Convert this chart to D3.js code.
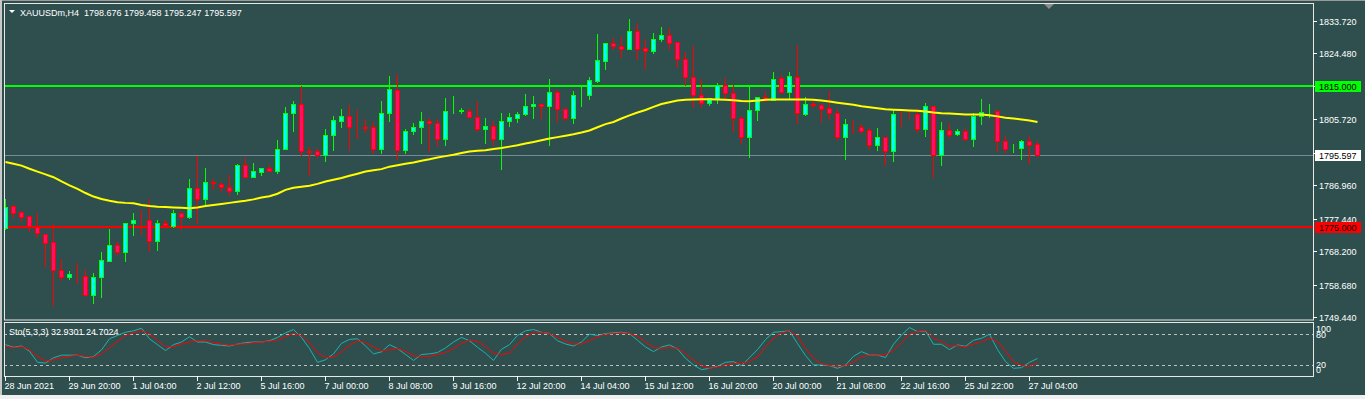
<!DOCTYPE html>
<html>
<head>
<meta charset="utf-8">
<script src="https://d3js.org/d3.v7.min.js"></script>
<style>
  html, body { margin: 0; padding: 0; background: #2f4f4f; overflow: hidden; }
  svg { display: block; font-family: "Liberation Sans", Arial, sans-serif; }
</style>
</head>
<body>
<div id="chart"></div>
<script>
// XAUUSDm H4 bars (oldest first)
const open = [
  1774.7, 1781.0, 1779.3, 1778.1, 1775.1, 1773.1, 1770.7, 1762.7, 1760.9, 1761.5,
  1761.1, 1755.6, 1760.7, 1765.5, 1769.8, 1768.0, 1776.1, 1777.0, 1777.0, 1771.0,
  1776.1, 1775.3, 1779.0, 1778.0, 1786.0, 1782.9, 1787.7, 1787.2, 1786.3, 1785.4,
  1792.6, 1789.4, 1790.8, 1791.8, 1791.1, 1797.3, 1807.4, 1810.0, 1796.6, 1796.6,
  1795.6, 1801.1, 1805.3, 1806.6, 1803.5, 1803.4, 1803.4, 1797.3, 1807.4, 1814.0,
  1796.8, 1802.2, 1803.6, 1805.1, 1804.5, 1800.2, 1807.9, 1808.0, 1807.9, 1806.4,
  1802.8, 1803.9, 1800.0, 1805.1, 1805.9, 1807.2, 1809.5, 1810.0, 1809.5, 1813.4,
  1808.5, 1805.9, 1812.5, 1812.5, 1816.7, 1822.3, 1827.3, 1826.5, 1825.6, 1830.7,
  1826.0, 1825.2, 1828.4, 1829.6, 1827.7, 1822.7, 1817.8, 1812.7, 1810.4, 1811.4,
  1815.5, 1813.1, 1805.9, 1800.5, 1808.3, 1812.1, 1811.2, 1817.4, 1813.4, 1817.6,
  1807.2, 1809.9, 1809.6, 1808.9, 1807.4, 1800.5, 1803.8, 1803.6, 1802.6, 1798.5,
  1800.5, 1796.6, 1807.2, 1807.2, 1807.2, 1803.0, 1809.4, 1795.6, 1802.6, 1801.5,
  1802.2, 1800.2, 1806.6, 1807.7, 1807.9, 1799.4, 1797.4, 1797.5, 1799.4, 1798.676
];
const high = [
  1782.9, 1781.3, 1779.7, 1778.1, 1778.9, 1773.1, 1775.9, 1766.0, 1762.4, 1764.7,
  1762.8, 1761.9, 1767.9, 1774.4, 1770.8, 1776.1, 1778.9, 1779.9, 1782.9, 1777.0,
  1777.0, 1779.9, 1779.0, 1788.6, 1795.2, 1791.8, 1788.6, 1787.8, 1789.7, 1793.0,
  1794.8, 1793.2, 1791.7, 1792.6, 1799.8, 1809.1, 1810.8, 1815.1, 1797.7, 1797.3,
  1802.8, 1806.6, 1808.5, 1809.6, 1808.3, 1805.7, 1805.0, 1810.8, 1818.0, 1818.6,
  1802.8, 1804.5, 1807.7, 1805.9, 1805.7, 1811.7, 1812.3, 1808.9, 1808.5, 1810.8,
  1806.0, 1805.1, 1807.4, 1807.4, 1807.7, 1812.9, 1812.3, 1810.0, 1817.0, 1814.0,
  1808.9, 1813.6, 1815.0, 1817.8, 1829.9, 1827.3, 1828.8, 1829.0, 1834.1, 1833.0,
  1828.4, 1830.1, 1831.8, 1831.6, 1827.7, 1824.8, 1826.5, 1817.0, 1811.7, 1816.1,
  1817.4, 1815.3, 1806.6, 1814.8, 1812.1, 1813.4, 1819.1, 1818.2, 1819.1, 1826.8,
  1811.9, 1811.0, 1810.0, 1813.6, 1808.7, 1805.8, 1805.5, 1804.3, 1803.2, 1803.2,
  1800.5, 1808.3, 1808.3, 1808.3, 1808.5, 1810.4, 1809.4, 1804.9, 1804.5, 1802.8,
  1802.8, 1807.4, 1811.5, 1810.0, 1808.3, 1800.9, 1798.6, 1799.8, 1800.9, 1799.458
];
const low = [
  1774.5, 1777.8, 1776.8, 1774.0, 1772.1, 1763.9, 1752.9, 1760.0, 1760.3, 1759.0,
  1755.6, 1753.3, 1755.0, 1765.5, 1767.5, 1765.5, 1772.9, 1773.0, 1768.3, 1768.5,
  1775.0, 1775.0, 1774.4, 1777.6, 1776.1, 1781.3, 1785.9, 1785.4, 1784.1, 1784.4,
  1789.2, 1789.4, 1789.8, 1790.9, 1790.5, 1797.3, 1802.2, 1795.6, 1789.9, 1794.9,
  1793.9, 1796.9, 1803.4, 1796.8, 1800.3, 1802.1, 1796.2, 1796.2, 1805.3, 1794.3,
  1796.2, 1801.5, 1799.0, 1796.6, 1798.1, 1798.5, 1807.6, 1807.4, 1806.2, 1802.4,
  1798.8, 1798.3, 1791.6, 1803.7, 1804.9, 1806.8, 1805.9, 1805.9, 1798.5, 1805.3,
  1805.5, 1804.5, 1809.5, 1811.4, 1816.3, 1820.1, 1825.6, 1823.5, 1825.6, 1822.7,
  1820.1, 1824.6, 1828.0, 1825.6, 1820.6, 1815.3, 1809.3, 1809.1, 1809.8, 1810.4,
  1811.4, 1802.4, 1798.8, 1794.9, 1805.5, 1810.8, 1811.2, 1813.2, 1811.5, 1804.5,
  1807.0, 1809.1, 1804.9, 1805.8, 1799.8, 1794.5, 1801.9, 1801.9, 1797.1, 1796.9,
  1792.8, 1793.9, 1803.9, 1806.0, 1802.0, 1800.9, 1789.3, 1792.8, 1800.7, 1801.1,
  1799.8, 1798.1, 1804.3, 1806.2, 1796.6, 1796.4, 1796.4, 1794.5, 1793.3, 1795.247
];
const close = [
  1780.8, 1779.1, 1778.0, 1775.3, 1773.2, 1770.4, 1762.8, 1760.9, 1761.6, 1761.4,
  1755.6, 1760.7, 1765.6, 1769.8, 1768.0, 1776.1, 1777.0, 1776.9, 1771.0, 1776.1,
  1775.5, 1779.1, 1778.0, 1786.0, 1782.9, 1787.7, 1787.5, 1786.3, 1785.4, 1792.6,
  1789.4, 1790.9, 1791.7, 1791.1, 1797.3, 1807.4, 1810.0, 1796.6, 1796.5, 1795.6,
  1801.1, 1805.5, 1806.6, 1803.4, 1803.4, 1803.3, 1797.3, 1807.4, 1814.2, 1796.8,
  1802.2, 1803.6, 1805.1, 1804.5, 1800.2, 1807.9, 1808.0, 1808.2, 1806.4, 1802.8,
  1803.9, 1800.0, 1805.1, 1806.2, 1807.2, 1809.5, 1810.0, 1809.5, 1813.4, 1808.5,
  1805.9, 1812.5, 1812.6, 1816.9, 1822.5, 1827.3, 1826.5, 1825.6, 1830.7, 1825.8,
  1825.2, 1828.4, 1829.6, 1827.3, 1822.7, 1817.8, 1812.7, 1810.2, 1811.7, 1815.5,
  1813.1, 1805.9, 1800.5, 1808.3, 1812.1, 1811.2, 1817.2, 1813.4, 1818.0, 1807.4,
  1810.0, 1809.8, 1808.7, 1807.4, 1800.5, 1804.3, 1803.7, 1802.4, 1798.5, 1800.5,
  1796.6, 1807.2, 1807.1, 1807.1, 1803.0, 1809.4, 1795.6, 1802.6, 1801.3, 1802.2,
  1800.2, 1806.6, 1807.7, 1807.8, 1799.4, 1797.3, 1797.5, 1799.4, 1798.5, 1795.597
];
// yellow moving average, one value per bar
const ma = [
  1793.5, 1793.0, 1792.5, 1791.6, 1790.8, 1790.0, 1789.2, 1788.0, 1786.9, 1785.9,
  1784.7, 1783.7, 1783.0, 1782.5, 1782.1, 1781.9, 1781.8, 1781.3, 1781.0, 1780.8,
  1780.7, 1780.6, 1780.5, 1780.4, 1780.6, 1781.0, 1781.3, 1781.6, 1781.9, 1782.2,
  1782.5, 1782.9, 1783.4, 1783.8, 1784.5, 1785.6, 1786.2, 1786.5, 1786.8, 1787.3,
  1788.0, 1788.5, 1789.0, 1789.6, 1790.2, 1790.8, 1791.2, 1791.5, 1792.2, 1792.6,
  1793.0, 1793.4, 1793.9, 1794.3, 1794.8, 1795.2, 1795.6, 1796.1, 1796.5, 1796.7,
  1796.9, 1797.2, 1797.5, 1797.9, 1798.3, 1798.8, 1799.2, 1799.7, 1800.2, 1800.6,
  1801.0, 1801.4, 1801.9, 1802.5, 1803.4, 1804.3, 1804.9, 1805.9, 1806.8, 1807.6,
  1808.3, 1809.2, 1810.0, 1810.5, 1811.0, 1811.2, 1811.3, 1811.4, 1811.4, 1811.3,
  1811.2, 1811.1, 1810.9, 1810.8, 1811.0, 1811.2, 1811.3, 1811.3, 1811.3, 1811.3,
  1811.3, 1811.2, 1811.0, 1810.7, 1810.4, 1810.1, 1809.8, 1809.4, 1809.1, 1808.8,
  1808.5, 1808.4, 1808.3, 1808.2, 1808.1, 1807.9, 1807.6, 1807.4, 1807.3, 1807.2,
  1807.0, 1807.0, 1807.0, 1806.8, 1806.5, 1806.1, 1805.9, 1805.6, 1805.3, 1804.9
];
// Stochastic(5,3,3): main and signal
const stoMain = [
  60.0, 54.8, 57.4, 47.1, 25.2, 23.9, 34.2, 39.4, 39.4, 39.4,
  34.2, 36.8, 49.7, 71.6, 78.1, 84.5, 87.1, 92.3, 71.6, 60.0,
  48.4, 60.0, 65.2, 75.5, 65.2, 65.2, 60.0, 58.7, 57.4, 61.3,
  63.9, 65.2, 65.2, 67.7, 74.2, 83.2, 89.7, 74.2, 52.3, 25.2,
  30.3, 41.9, 62.6, 70.3, 71.6, 57.4, 41.9, 45.8, 60.0, 52.3,
  40.7, 29.0, 40.7, 41.9, 44.5, 53.6, 65.2, 74.2, 67.7, 54.8,
  43.2, 29.0, 51.0, 60.0, 78.1, 87.1, 89.7, 84.5, 81.9, 67.7,
  61.3, 57.4, 65.2, 80.6, 78.1, 81.8, 83.1, 84.4, 81.8, 68.6,
  55.5, 46.3, 55.5, 59.5, 51.6, 33.2, 20.1, 10.9, 13.5, 17.5,
  25.3, 26.7, 18.8, 34.5, 50.3, 70.0, 84.4, 85.7, 87.0, 62.1,
  38.5, 20.1, 20.1, 18.8, 13.5, 20.1, 37.2, 46.3, 39.8, 39.8,
  34.5, 60.8, 79.1, 93.6, 85.7, 87.0, 60.8, 60.8, 50.3, 59.5,
  56.8, 68.6, 72.6, 80.5, 50.3, 26.7, 13.5, 14.8, 25.3, 32.9301
];
const stoSignal = [
  57.4, 53.6, 56.1, 49.7, 36.8, 27.8, 30.3, 34.2, 36.8, 39.4,
  36.8, 35.5, 42.0, 53.6, 66.5, 78.1, 83.2, 87.1, 80.6, 67.7,
  56.1, 56.1, 61.3, 65.2, 67.7, 67.7, 64.0, 61.3, 58.7, 61.3,
  61.3, 63.9, 65.2, 66.5, 69.0, 75.5, 81.9, 78.1, 63.9, 44.5,
  34.2, 35.5, 45.8, 58.7, 67.7, 64.5, 54.8, 48.4, 49.7, 52.3,
  47.1, 38.1, 36.8, 36.8, 40.7, 44.5, 52.3, 62.6, 69.0, 66.5,
  56.1, 43.2, 40.7, 43.2, 61.3, 75.5, 84.5, 84.5, 81.9, 74.2,
  66.5, 61.3, 61.3, 67.7, 75.5, 80.5, 81.8, 83.1, 81.8, 76.5,
  66.0, 54.2, 52.9, 54.2, 52.9, 42.4, 29.3, 18.8, 13.5, 16.2,
  20.1, 22.7, 24.0, 26.7, 35.8, 55.5, 72.6, 83.1, 87.0, 76.5,
  52.9, 33.2, 22.7, 18.8, 17.5, 18.8, 26.7, 35.8, 39.8, 39.8,
  39.8, 49.0, 63.4, 80.5, 85.7, 88.3, 72.6, 66.0, 56.8, 58.1,
  55.5, 60.8, 66.0, 72.6, 66.0, 47.7, 26.7, 18.8, 17.5, 24.7024
];
// time labels every 8 bars
const timeLabels = [
  "28 Jun 2021", "29 Jun 20:00", "1 Jul 04:00", "2 Jul 12:00", "5 Jul 16:00",
  "7 Jul 00:00", "8 Jul 08:00", "9 Jul 16:00", "12 Jul 20:00", "14 Jul 04:00",
  "15 Jul 12:00", "16 Jul 20:00", "20 Jul 00:00", "21 Jul 08:00", "22 Jul 16:00",
  "25 Jul 22:00", "27 Jul 04:00"
];
const priceTicks = [1833.72, 1824.48, 1815.24, 1805.72, 1796.2, 1786.96, 1777.44, 1768.2, 1758.68, 1749.44];
const stoLevels = [100, 80, 20, 0];
const resistance = 1815.0;
const support = 1775.0;
const bid = 1795.597;

const width = 1365, height = 399;
const left = 4, right = 1313;
const mainTop = 4, mainBottom = 320, subTop = 322, subBottom = 376;
const txt = "#ffffff";

const svg = d3.select('#chart')
    .append('svg')
    .attr('width', width)
    .attr('height', height);

svg.append('rect').attr('width', width).attr('height', height).attr('fill', '#2f4f4f');
// window edges
svg.append('rect').attr('x', 0).attr('y', 0).attr('width', width).attr('height', 1).attr('fill', '#9a9a9a');
svg.append('rect').attr('x', 0).attr('y', 0).attr('width', 2).attr('height', height).attr('fill', '#c8c8c8');
svg.append('rect').attr('x', 0).attr('y', 395).attr('width', width).attr('height', 4).attr('fill', '#f0f0f0');

const x = d3.scaleLinear().domain([0, open.length - 1]).range([5.5, 1037.5]);
const y = d3.scaleLinear().domain([1748.59, 1838.46]).range([mainBottom, mainTop]);
const ys = d3.scaleLinear().domain([0, 100]).range([375.2, 324.3]);
const snap = v => Math.round(v) + 0.5;

const defs = svg.append('defs');
defs.append('clipPath').attr('id', 'clipMain').append('rect')
    .attr('x', left + 1).attr('y', mainTop + 1).attr('width', right - left - 1).attr('height', mainBottom - mainTop - 1);
defs.append('clipPath').attr('id', 'clipSub').append('rect')
    .attr('x', left + 1).attr('y', subTop + 1).attr('width', right - left - 1).attr('height', subBottom - subTop - 1);

// ---------- main window ----------
const main = svg.append('g').attr('clip-path', 'url(#clipMain)');

main.append('line')
    .attr('x1', left).attr('x2', right)
    .attr('y1', snap(y(bid))).attr('y2', snap(y(bid)))
    .attr('stroke', '#778899').attr('stroke-width', 1);

[[resistance, '#00ff00'], [support, '#ff0000']].forEach(([v, c]) => {
    main.append('line')
        .attr('x1', left).attr('x2', right)
        .attr('y1', Math.round(y(v))).attr('y2', Math.round(y(v)))
        .attr('stroke', c).attr('stroke-width', 2);
});

const bars = d3.range(open.length).map(i => ({ i, o: open[i], h: high[i], l: low[i], c: close[i] }));

const candle = main.selectAll('.candle')
    .data(bars)
    .enter().append('g')
    .attr('class', 'candle');

candle.append('line')
    .attr('x1', d => x(d.i)).attr('x2', d => x(d.i))
    .attr('y1', d => Math.round(y(d.h))).attr('y2', d => Math.round(y(d.l)) + 1)
    .attr('stroke', d => d.c >= d.o ? '#00ff00' : '#ff0000')
    .attr('stroke-width', 1);

candle.append('rect')
    .attr('x', d => x(d.i) - 2)
    .attr('y', d => snap(y(Math.max(d.o, d.c))))
    .attr('width', 4)
    .attr('height', d => Math.max(0, snap(y(Math.min(d.o, d.c))) - snap(y(Math.max(d.o, d.c)))))
    .attr('fill', d => d.c >= d.o ? '#00ffff' : '#ff0f6c')
    .attr('stroke', d => d.c >= d.o ? '#00ff00' : '#ff0000')
    .attr('stroke-width', 1);

main.append('path')
    .datum(ma)
    .attr('fill', 'none')
    .attr('stroke', '#ffff00')
    .attr('stroke-width', 2)
    .attr('d', d3.line().x((d, i) => x(i)).y(d => y(d)));

// frame
svg.append('rect')
    .attr('x', left + 0.5).attr('y', mainTop - 0.5)
    .attr('width', right - left).attr('height', mainBottom - mainTop + 0.5)
    .attr('fill', 'none').attr('stroke', '#e8e8e8').attr('stroke-width', 1);

// chart shift marker
const sx = x(open.length - 1) + 11.5;
svg.append('path')
    .attr('d', `M${sx - 5},${mainTop}L${sx + 5},${mainTop}L${sx},${mainTop + 5}Z`)
    .attr('fill', '#8c8c8c');

// header
svg.append('path').attr('d', 'M9,10L15,10L12,13Z').attr('fill', txt);
svg.append('text')
    .attr('x', 20).attr('y', 15.5)
    .attr('fill', txt).attr('font-size', '9px')
    .attr('xml:space', 'preserve')
    .text(`XAUUSDm,H4  ${open[open.length - 1].toFixed(3)} ${high[high.length - 1].toFixed(3)} ${low[low.length - 1].toFixed(3)} ${close[close.length - 1].toFixed(3)}`);

// price axis
const pa = svg.append('g');
priceTicks.forEach(v => {
    const py = Math.round(y(v)) + 0.5;
    pa.append('line').attr('x1', right).attr('x2', right + 4).attr('y1', py).attr('y2', py)
        .attr('stroke', txt).attr('stroke-width', 1);
    pa.append('text').attr('x', right + 6).attr('y', py).attr('dy', '0.35em')
        .attr('fill', txt).attr('font-size', '9px').text(v.toFixed(3));
});

[[resistance, '#00ff00', '#000000'], [bid, '#ffffff', '#000000'], [support, '#ff0000', '#000000']].forEach(([v, bg, fg]) => {
    const py = Math.round(y(v));
    pa.append('rect').attr('x', right + 2).attr('y', py - 5).attr('width', 46).attr('height', 11).attr('fill', bg);
    pa.append('text').attr('x', right + 6).attr('y', py + 0.5).attr('dy', '0.35em')
        .attr('fill', fg).attr('font-size', '9px').text(v.toFixed(3));
});

// ---------- stochastic window ----------
const sub = svg.append('g').attr('clip-path', 'url(#clipSub)');

[80, 20].forEach(v => {
    sub.append('line')
        .attr('x1', left).attr('x2', right)
        .attr('y1', snap(ys(v))).attr('y2', snap(ys(v)))
        .attr('stroke', '#c0c0c0').attr('stroke-width', 1).attr('stroke-dasharray', '3,3');
});

sub.append('path')
    .datum(stoMain)
    .attr('fill', 'none').attr('stroke', '#20b2aa').attr('stroke-width', 1)
    .attr('d', d3.line().x((d, i) => x(i)).y(d => ys(d)));

sub.append('path')
    .datum(stoSignal)
    .attr('fill', 'none').attr('stroke', '#ff0000').attr('stroke-width', 1)
    .attr('d', d3.line().x((d, i) => x(i)).y(d => ys(d)));

svg.append('rect')
    .attr('x', left + 0.5).attr('y', subTop + 0.5)
    .attr('width', right - left).attr('height', subBottom - subTop)
    .attr('fill', 'none').attr('stroke', '#e8e8e8').attr('stroke-width', 1);

svg.append('text')
    .attr('x', 9).attr('y', 334.5)
    .attr('fill', txt).attr('font-size', '9px')
    .text(`Sto(5,3,3) ${stoMain[stoMain.length - 1].toFixed(4)} ${stoSignal[stoSignal.length - 1].toFixed(4)}`);

stoLevels.forEach(v => {
    const ly = Math.min(Math.max(ys(v), subTop + 7), subBottom - 6.5);
    svg.append('text').attr('x', right + 3).attr('y', ly).attr('dy', '0.35em')
        .attr('fill', txt).attr('font-size', '9px').text(v);
});

// ---------- time axis ----------
const ta = svg.append('g');
timeLabels.forEach((lab, k) => {
    const tx = x(k * 8);
    ta.append('line').attr('x1', tx).attr('x2', tx).attr('y1', subBottom).attr('y2', subBottom + 5)
        .attr('stroke', txt).attr('stroke-width', 1);
    ta.append('text').attr('x', tx - 1).attr('y', 389)
        .attr('fill', txt).attr('font-size', '9px').text(lab);
});
</script>
</body>
</html>
